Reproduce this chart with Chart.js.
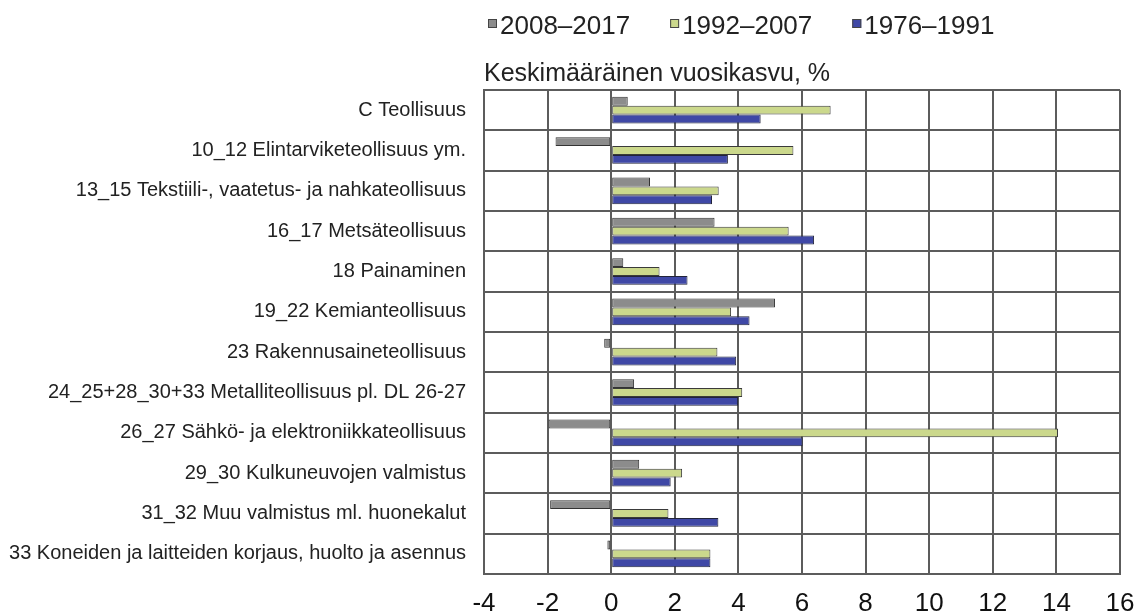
<!DOCTYPE html>
<html>
<head>
<meta charset="utf-8">
<script src="https://cdn.jsdelivr.net/npm/chart.js@4/dist/chart.umd.min.js"></script>
<style>
  body { margin: 0; background: #fff; }
</style>
</head>
<body>
<canvas id="kasvu" width="1137" height="615"></canvas>
<script>
let toimialat = [
  'C Teollisuus',
  '10_12 Elintarviketeollisuus ym.',
  '13_15 Tekstiili-, vaatetus- ja nahkateollisuus',
  '16_17 Metsäteollisuus',
  '18 Painaminen',
  '19_22 Kemianteollisuus',
  '23 Rakennusaineteollisuus',
  '24_25+28_30+33 Metalliteollisuus pl. DL 26-27',
  '26_27 Sähkö- ja elektroniikkateollisuus',
  '29_30 Kulkuneuvojen valmistus',
  '31_32 Muu valmistus ml. huonekalut',
  '33 Koneiden ja laitteiden korjaus, huolto ja asennus'
];
let kaudet = ['2008–2017', '1992–2007', '1976–1991'];
let kasvu2008 = [0.52, -1.75, 1.22, 3.25, 0.38, 5.15, -0.22, 0.72, -1.97, 0.88, -1.92, -0.12];
let kasvu1992 = [6.9, 5.73, 3.38, 5.58, 1.52, 3.77, 3.34, 4.12, 14.05, 2.23, 1.8, 3.12];
let kasvu1976 = [4.7, 3.67, 3.17, 6.38, 2.4, 4.35, 3.93, 3.99, 6.02, 1.87, 3.37, 3.12];
let xMin = -4, xMax = 16, xStep = 2;
let otsikko = 'Keskimääräinen vuosikasvu, %';

let fontti = '"Liberation Sans", Arial, sans-serif';
let viiva = '#5c5c5c';

// legend drawn above the plot, starting at the plot's left edge
const kausiSelite = {
  id: 'kausiSelite',
  afterDraw(chart) {
    const ctx = chart.ctx;
    let x = chart.chartArea.left + 4;
    ctx.save();
    ctx.font = '26px ' + fontti;
    ctx.textBaseline = 'alphabetic';
    chart.data.datasets.forEach(ds => {
      ctx.fillStyle = ds.backgroundColor;
      ctx.fillRect(x, 19, 9, 9);
      ctx.strokeStyle = '#444';
      ctx.lineWidth = 1;
      ctx.strokeRect(x + 0.5, 19.5, 8, 8);
      ctx.fillStyle = '#222';
      ctx.fillText(ds.label, x + 12, 34);
      x += 12 + ctx.measureText(ds.label).width + 40;
    });
    ctx.restore();
  }
};

let ctx = document.getElementById('kasvu').getContext('2d');

let sarjat = [
  { label: kaudet[0], data: kasvu2008, backgroundColor: '#8c8c8c', borderColor: '#333333' },
  { label: kaudet[1], data: kasvu1992, backgroundColor: '#cbd88c', borderColor: '#3a3a3a' },
  { label: kaudet[2], data: kasvu1976, backgroundColor: '#3f48a6', borderColor: '#22243a' }
].map(s => Object.assign(s, {
  borderWidth: 1,
  borderSkipped: false,
  categoryPercentage: 0.66,
  barPercentage: 1.0
}));

new Chart(ctx, {
  type: 'bar',
  data: { labels: toimialat, datasets: sarjat },
  options: {
    indexAxis: 'y',
    responsive: false,
    animation: false,
    layout: { padding: { top: 59, right: 17, bottom: 0, left: 0 } },
    plugins: {
      legend: { display: false },
      tooltip: { enabled: false }
    },
    scales: {
      x: {
        type: 'linear',
        position: 'bottom',
        min: xMin, max: xMax,
        ticks: { stepSize: xStep, color: '#111', padding: 14, font: { size: 26, family: fontti } },
        grid: { color: viiva, lineWidth: 2, drawTicks: false },
        border: { color: viiva, width: 2 },
        afterFit(scale) {
          scale.height = 41;
          scale.paddingLeft = 0;
          scale.paddingRight = 0;
        }
      },
      x2: {
        type: 'linear',
        position: 'top',
        min: xMin, max: xMax,
        ticks: { display: false },
        grid: { display: false, drawTicks: false },
        border: { display: false },
        title: {
          display: true,
          text: otsikko,
          align: 'start',
          color: '#222',
          font: { size: 25, family: fontti },
          padding: { top: 0, bottom: 1 }
        },
        afterFit(scale) {
          scale.paddingLeft = 0;
          scale.paddingRight = 0;
        }
      },
      y: {
        ticks: { color: '#222', padding: 18, font: { size: 20, family: fontti } },
        grid: { color: viiva, lineWidth: 2, drawTicks: false, offset: true },
        border: { color: viiva, width: 2 },
        afterFit(scale) { scale.width = 484; }
      }
    }
  },
  plugins: [kausiSelite]
});
</script>
</body>
</html>
